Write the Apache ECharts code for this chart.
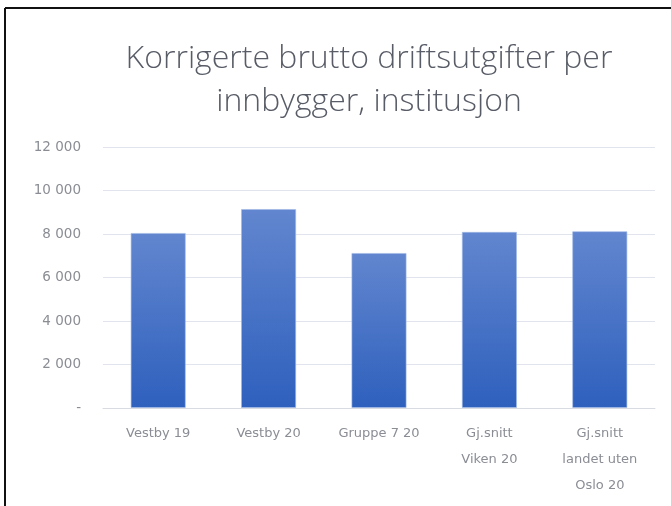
<!DOCTYPE html>
<html>
<head>
<meta charset="utf-8">
<script src="https://cdn.jsdelivr.net/npm/echarts@6/dist/echarts.min.js"></script>
<style>
  html, body { margin: 0; padding: 0; background: #fff; }
  #chart { width: 671px; height: 506px; }
</style>
</head>
<body>
<div id="chart"></div>
<script>
  // data
  var categories = ['Vestby 19', 'Vestby 20', 'Gruppe 7 20', 'Gj.snitt\nViken 20', 'Gj.snitt\nlandet uten\nOslo 20'];
  var values = [8050, 9150, 7130, 8100, 8130];
  var yTicks = [0, 2000, 4000, 6000, 8000, 10000, 12000];

  var myChart = echarts.init(document.getElementById('chart'));

  function fmt(v) {
    if (v === 0) return '-';
    return String(v).replace(/\B(?=(\d{3})+(?!\d))/g, ' ');
  }

  myChart.setOption({
    animation: false,
    title: {
      text: 'Korrigerte brutto driftsutgifter per\ninnbygger, institusjon',
      left: 364,
      top: 32,
      textAlign: 'center',
      textStyle: {
        color: '#585c66',
        fontFamily: 'Open Sans',
        fontWeight: 300,
        fontSize: 32,
        lineHeight: 43
      }
    },
    graphic: [
      { type: 'line', shape: { x1: 5, y1: 8, x2: 671, y2: 8 }, style: { stroke: '#111', lineWidth: 2 } },
      { type: 'line', shape: { x1: 5, y1: 8, x2: 5, y2: 506 }, style: { stroke: '#111', lineWidth: 2 } }
    ],
    grid: { left: 103, right: 16, top: 147, bottom: 98 },
    xAxis: {
      type: 'category',
      data: categories,
      axisLine: { lineStyle: { color: '#d9dbe3' } },
      axisTick: { show: false },
      axisLabel: {
        color: '#8a8d94',
        fontFamily: 'DejaVu Sans',
        fontSize: 13,
        lineHeight: 26,
        margin: 13,
        interval: 0
      }
    },
    yAxis: {
      type: 'value',
      min: yTicks[0],
      max: yTicks[yTicks.length - 1],
      interval: 2000,
      axisLine: { show: false },
      axisTick: { show: false },
      splitLine: { lineStyle: { color: '#e1e4ec' } },
      axisLabel: {
        color: '#8a8d94',
        fontFamily: 'DejaVu Sans',
        fontSize: 13.5,
        margin: 22,
        formatter: fmt
      }
    },
    series: [{
      type: 'bar',
      data: values,
      barWidth: '50%',
      itemStyle: {
        color: new echarts.graphic.LinearGradient(0, 0, 0, 1, [
          { offset: 0, color: '#6286cf' },
          { offset: 1, color: '#2e60bd' }
        ]),
        borderColor: 'rgba(160,185,230,0.6)',
        borderWidth: 1
      }
    }]
  });
</script>
</body>
</html>
